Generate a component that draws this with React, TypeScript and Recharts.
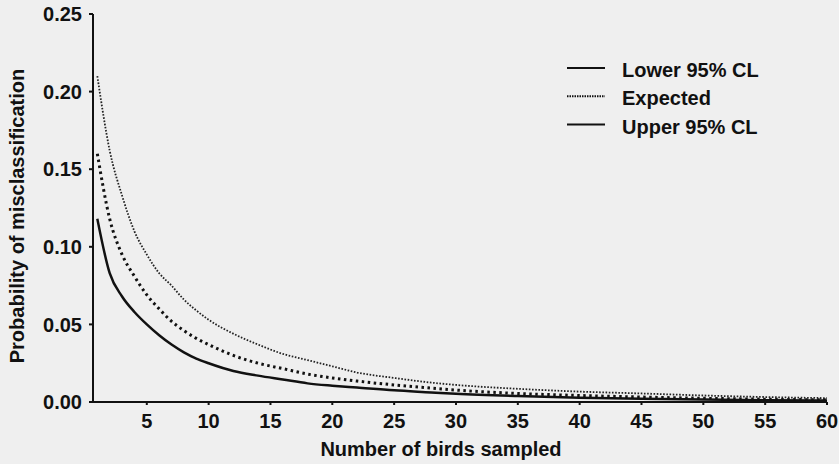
import React from "react";
import { LineChart, Line, XAxis, YAxis, Label } from "recharts";

const birds = [1, 2, 3, 4, 5, 6, 7, 8, 9, 10, 12, 14, 16, 18, 20, 22, 25, 28, 30, 35, 40, 45, 50, 55, 60];
const lower = [0.118, 0.083, 0.068, 0.058, 0.05, 0.043, 0.037, 0.032, 0.028, 0.025, 0.02, 0.017, 0.0145, 0.012, 0.0105, 0.0093, 0.0075, 0.0062, 0.0053, 0.0038, 0.0028, 0.0021, 0.0016, 0.0012, 0.0009];
const expected = [0.16, 0.118, 0.095, 0.081, 0.069, 0.06, 0.052, 0.046, 0.041, 0.037, 0.03, 0.025, 0.0215, 0.018, 0.0155, 0.0135, 0.011, 0.009, 0.0077, 0.0055, 0.0042, 0.0032, 0.0024, 0.0018, 0.0014];
const upper = [0.21, 0.162, 0.133, 0.11, 0.095, 0.083, 0.075, 0.066, 0.059, 0.053, 0.044, 0.037, 0.031, 0.027, 0.023, 0.019, 0.0155, 0.0125, 0.011, 0.0085, 0.0067, 0.0055, 0.0042, 0.0032, 0.0025];
const xTicks = [5, 10, 15, 20, 25, 30, 35, 40, 45, 50, 55, 60];
const yTicks = [0, 0.05, 0.1, 0.15, 0.2, 0.25];
const legendItems = [
  { name: "Lower 95% CL", dash: undefined as string | undefined },
  { name: "Expected", dash: "1.5 1" as string | undefined },
  { name: "Upper 95% CL", dash: undefined as string | undefined },
];

const data = birds.map((n, i) => ({ n, lower: lower[i], expected: expected[i], upper: upper[i] }));

const FONT = "'Liberation Sans', Arial, Helvetica, sans-serif";
const INK = "#111";
const FS = 20;

const LegendBox = () => (
  <svg width={230} height={90} style={{ position: "absolute", left: 560, top: 56 }}>
    {legendItems.map((it, i) => (
      <g key={it.name}>
        <line x1={7} x2={45} y1={12 + i * 28.3} y2={12 + i * 28.3} stroke={INK} strokeWidth={2} strokeDasharray={it.dash} />
        <text x={62} y={14 + i * 28.3} dy="0.35em" fontFamily={FONT} fontWeight="bold" fontSize={FS} fill={INK}>
          {it.name}
        </text>
      </g>
    ))}
  </svg>
);

export default function App() {
  return (
    <div style={{ position: "fixed", left: 0, top: 0, width: 839, height: 464, background: "#efefef" }}>
      <LineChart width={839} height={464} data={data} margin={{ top: 14, right: 12, bottom: 0, left: 0 }}>
        <XAxis
          dataKey="n"
          type="number"
          domain={[0.65, 60]}
          ticks={xTicks}
          allowDataOverflow
          stroke={INK}
          strokeWidth={2}
          tickSize={3}
          tickMargin={9}
          height={62}
          tick={{ fill: INK, fontFamily: FONT, fontWeight: "bold", fontSize: FS }}
        >
          <Label
            content={() => (
              <text x={441} y={456} textAnchor="middle" fontFamily={FONT} fontWeight="bold" fontSize={FS} fill={INK}>
                Number of birds sampled
              </text>
            )}
          />
        </XAxis>
        <YAxis
          type="number"
          domain={[0, 0.25]}
          ticks={yTicks}
          tickFormatter={(v: number) => v.toFixed(2)}
          stroke={INK}
          strokeWidth={2}
          tickSize={4}
          tickMargin={7}
          width={93}
          tick={{ fill: INK, fontFamily: FONT, fontWeight: "bold", fontSize: FS }}
        >
          <Label
            content={() => (
              <text
                x={17}
                y={216}
                transform="rotate(-90, 17, 216)"
                textAnchor="middle"
                dy="0.35em"
                fontFamily={FONT}
                fontWeight="bold"
                fontSize={FS}
                fill={INK}
              >
                Probability of misclassification
              </text>
            )}
          />
        </YAxis>
        <Line dataKey="lower" type="monotone" stroke={INK} strokeWidth={2.5} dot={false} isAnimationActive={false} />
        <Line dataKey="expected" type="monotone" stroke={INK} strokeWidth={3} strokeDasharray="2.5 3.5" dot={false} isAnimationActive={false} />
        <Line dataKey="upper" type="monotone" stroke="#222" strokeWidth={1.8} strokeDasharray="1.6 1.6" dot={false} isAnimationActive={false} />
      </LineChart>
      <LegendBox />
    </div>
  );
}
